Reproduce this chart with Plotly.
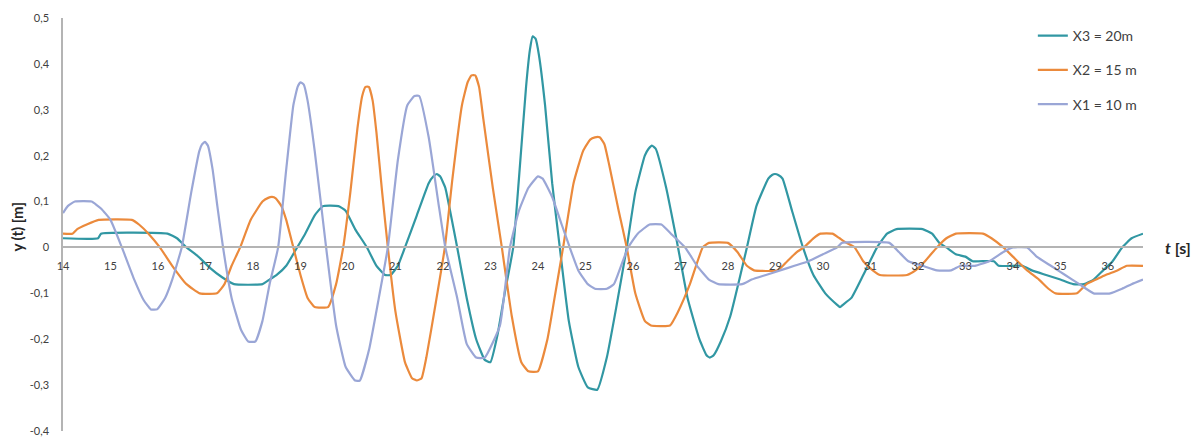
import plotly.graph_objects as go

# Recorded displacement y(t) [m] at three positions along the flume
t_x3 = [14.0, 14.74, 14.8, 16.2, 16.4, 16.6, 16.85, 17.1, 17.35, 17.6, 18.2, 18.35, 18.5, 18.7,
        18.93, 19.1, 19.3, 19.47, 19.8, 19.95, 20.15, 20.4, 20.6, 20.78, 20.9, 21.05, 21.2,
        21.45, 21.7, 21.8, 21.87, 21.94, 22.05, 22.15, 22.3, 22.5, 22.7, 22.88, 23.0, 23.15,
        23.3, 23.48, 23.6, 23.75, 23.83, 23.89, 23.95, 24.02, 24.15, 24.3, 24.46, 24.65,
        24.85, 25.05, 25.25, 25.45, 25.65, 25.87, 26.05, 26.25, 26.33, 26.4, 26.48, 26.7,
        26.95, 27.15, 27.4, 27.55, 27.62, 27.7, 27.85, 28.05, 28.4, 28.6, 28.85, 28.93,
        28.99, 29.06, 29.15, 29.35, 29.58, 29.8, 30.05, 30.3, 30.36, 30.42, 30.6, 30.85,
        31.14, 31.35, 31.55, 32.1, 32.3, 32.45, 32.6, 32.8, 33.0, 33.15, 33.6, 33.7, 34.2,
        34.4, 34.7, 35.0, 35.27, 35.5, 35.7, 35.9, 36.1, 36.3, 36.5, 36.74]
y_x3 = [0.02, 0.02, 0.03, 0.03, 0.02, 0.0, -0.02, -0.045, -0.065, -0.08, -0.08, -0.07, -0.06, -0.04,
        0.0, 0.03, 0.07, 0.09, 0.09, 0.08, 0.04, 0.0, -0.04, -0.06, -0.06, -0.04, 0.0,
        0.07, 0.14, 0.155, 0.16, 0.155, 0.13, 0.08, 0.0, -0.11, -0.2, -0.245, -0.25, -0.19,
        -0.1, 0.0, 0.15, 0.35, 0.43, 0.46, 0.455, 0.42, 0.31, 0.14, 0.0, -0.16,
        -0.26, -0.305, -0.31, -0.24, -0.13, 0.0, 0.12, 0.2, 0.215, 0.222, 0.215, 0.13,
        0.0, -0.11, -0.2, -0.235, -0.24, -0.235, -0.205, -0.15, 0.0, 0.09, 0.15, 0.158,
        0.16, 0.158, 0.15, 0.08, 0.0, -0.06, -0.1, -0.125, -0.13, -0.125, -0.11, -0.06,
        0.0, 0.03, 0.04, 0.04, 0.03, 0.01, 0.0, -0.015, -0.02, -0.03, -0.03, -0.04, -0.04,
        -0.05, -0.06, -0.07, -0.08, -0.08, -0.07, -0.05, -0.03, 0.0, 0.02, 0.03]

t_x2 = [14.0, 14.2, 14.3, 14.5, 14.75, 15.45, 15.6, 15.8, 16.04, 16.3, 16.6, 16.88, 17.24, 17.4,
        17.55, 17.73, 17.95, 18.2, 18.32, 18.4, 18.48, 18.6, 18.7, 18.85, 19.0, 19.15, 19.3,
        19.58, 19.75, 19.9, 20.05, 20.2, 20.3, 20.37, 20.44, 20.52, 20.6, 20.72, 20.84, 21.0,
        21.2, 21.35, 21.45, 21.55, 21.65, 21.85, 22.04, 22.2, 22.4, 22.52, 22.6, 22.68,
        22.76, 22.85, 23.05, 23.24, 23.45, 23.65, 23.8, 24.0, 24.2, 24.35, 24.53, 24.75,
        24.95, 25.1, 25.2, 25.3, 25.4, 25.5, 25.7, 25.87, 26.05, 26.25, 26.38, 26.78,
        26.95, 27.2, 27.47, 27.6, 28.0, 28.2, 28.4, 28.55, 29.05, 29.25, 29.45, 29.6, 29.8,
        29.95, 30.2, 30.35, 30.5, 30.67, 30.85, 31.05, 31.2, 31.77, 31.95, 32.15, 32.4,
        32.6, 32.8, 33.37, 33.55, 33.8, 34.0, 34.3, 34.55, 34.75, 34.9, 35.35, 35.55,
        35.75, 35.95, 36.2, 36.4, 36.74]
y_x2 = [0.03, 0.03, 0.04, 0.05, 0.06, 0.06, 0.05, 0.03, 0.0, -0.04, -0.08, -0.1, -0.1, -0.08,
        -0.04, 0.0, 0.06, 0.1, 0.108, 0.11, 0.107, 0.09, 0.06, 0.0, -0.06, -0.11, -0.13,
        -0.13, -0.08, 0.0, 0.12, 0.26, 0.33, 0.35, 0.35, 0.32, 0.25, 0.12, 0.0, -0.14,
        -0.25, -0.285, -0.29, -0.285, -0.24, -0.12, 0.0, 0.15, 0.31, 0.36, 0.375, 0.375,
        0.35, 0.28, 0.13, 0.0, -0.15, -0.25, -0.27, -0.27, -0.2, -0.11, 0.0, 0.14,
        0.21, 0.235, 0.24, 0.24, 0.225, 0.18, 0.08, 0.0, -0.1, -0.16, -0.17, -0.17,
        -0.14, -0.08, 0.0, 0.01, 0.01, -0.01, -0.04, -0.05, -0.05, -0.03, -0.01, 0.0, 0.02,
        0.03, 0.03, 0.02, 0.01, 0.0, -0.03, -0.05, -0.06, -0.06, -0.05, -0.03, 0.0,
        0.02, 0.03, 0.03, 0.02, 0.0, -0.02, -0.05, -0.07, -0.09, -0.1, -0.1, -0.08,
        -0.07, -0.06, -0.05, -0.04, -0.04]

t_x1 = [14.0, 14.1, 14.25, 14.6, 14.8, 15.0, 15.24, 15.5, 15.7, 15.85, 15.98, 16.15, 16.3, 16.5,
        16.7, 16.87, 16.93, 16.99, 17.05, 17.15, 17.25, 17.37, 17.55, 17.75, 17.9, 18.05,
        18.2, 18.35, 18.53, 18.7, 18.85, 18.94, 19.0, 19.07, 19.15, 19.3, 19.54, 19.75,
        19.95, 20.15, 20.25, 20.45, 20.65, 20.84, 21.05, 21.25, 21.4, 21.5, 21.7, 21.9,
        22.05, 22.3, 22.5, 22.7, 22.88, 23.2, 23.41, 23.6, 23.8, 24.0, 24.1, 24.3, 24.5,
        24.67, 24.85, 25.05, 25.2, 25.45, 25.6, 25.75, 25.9, 26.1, 26.35, 26.6, 26.8, 27.1,
        27.35, 27.6, 27.8, 28.3, 28.5, 28.8, 29.1, 29.4, 29.7, 30.0, 30.3, 30.4, 31.4, 31.6,
        31.8, 32.1, 32.4, 32.7, 32.9, 33.2, 33.5, 33.8, 34.0, 34.3, 34.5, 34.8, 35.1, 35.4,
        35.7, 36.05, 36.3, 36.5, 36.74]
y_x1 = [0.075, 0.09, 0.1, 0.1, 0.085, 0.06, 0.0, -0.07, -0.115, -0.135, -0.135, -0.11, -0.07, 0.0,
        0.12, 0.21, 0.225, 0.23, 0.222, 0.17, 0.09, 0.0, -0.11, -0.18, -0.205, -0.205,
        -0.16, -0.08, 0.0, 0.17, 0.31, 0.35, 0.36, 0.355, 0.32, 0.21, 0.0, -0.17,
        -0.26, -0.29, -0.29, -0.22, -0.11, 0.0, 0.19, 0.31, 0.33, 0.33, 0.24, 0.1,
        0.0, -0.11, -0.21, -0.24, -0.24, -0.17, 0.0, 0.08, 0.13, 0.155, 0.15, 0.11, 0.05,
        0.0, -0.05, -0.08, -0.09, -0.09, -0.08, -0.04, 0.0, 0.03, 0.05, 0.05, 0.03, 0.0,
        -0.04, -0.07, -0.08, -0.08, -0.07, -0.06, -0.05, -0.04, -0.03, -0.015, 0.0, 0.01, 0.01, -0.01,
        -0.03, -0.04, -0.05, -0.05, -0.04, -0.04, -0.03, -0.01, 0.0, 0.0, -0.02, -0.04, -0.06, -0.08,
        -0.1, -0.1, -0.09, -0.08, -0.07]

series_names = ["X3 = 20m", "X2 = 15 m", "X1 = 10 m"]
series_colors = ["#3197a3", "#eb8a3c", "#9aa6d6"]

x_ticks = list(range(14, 37))
y_ticks = [0.5, 0.4, 0.3, 0.2, 0.1, 0.0, -0.1, -0.2, -0.3, -0.4]
y_tick_text = ["0,5", "0,4", "0,3", "0,2", "0,1", "0", "-0,1", "-0,2", "-0,3", "-0,4"]

FONT = "Lato"
TXT = "#404040"
AXIS_GREY = "#b4b4b4"

fig = go.Figure()
for i, (tx, ty) in enumerate([(t_x3, y_x3), (t_x2, y_x2), (t_x1, y_x1)]):
    fig.add_trace(go.Scatter(
        x=tx, y=ty, mode="lines", name=series_names[i],
        legendgroup=f"g{i}",
        line=dict(color=series_colors[i], width=2.2, shape="spline", smoothing=0.4),
    ))

fig.update_layout(
    width=1200, height=448,
    margin=dict(l=63, r=57, t=12, b=11),
    paper_bgcolor="white", plot_bgcolor="white",
    font=dict(family=FONT, color=TXT, size=11),
    showlegend=True,
    legend=dict(
        x=0.898, y=0.995, xanchor="left", yanchor="top",
        font=dict(family=FONT, size=14, color=TXT),
        tracegroupgap=13, bgcolor="rgba(255,255,255,0)",
        itemwidth=30,
    ),
    xaxis=dict(
        range=[14, 36.74], anchor="free", position=0.4 / 0.9,
        showgrid=False, zeroline=False,
        showline=True, linecolor=AXIS_GREY, linewidth=1.5,
        tickvals=x_ticks, ticktext=[str(v) for v in x_ticks],
        ticks="", ticklabelstandoff=9,
        tickfont=dict(family=FONT, size=11, color=TXT),
    ),
    yaxis=dict(
        range=[-0.4, 0.5],
        showgrid=False, zeroline=False,
        showline=True, linecolor=AXIS_GREY, linewidth=1.5,
        tickvals=y_ticks, ticktext=y_tick_text,
        ticks="", ticklabelstandoff=10,
        tickfont=dict(family=FONT, size=11, color=TXT),
    ),
    annotations=[
        dict(text="<b>y (t) [m]</b>", xref="paper", yref="paper",
             x=(17 - 63) / 1080, y=0.495, textangle=-90, showarrow=False,
             xanchor="center", yanchor="middle",
             font=dict(family=FONT, size=15, color="#262626")),
        dict(text="<b><i>t</i> [s]</b>", xref="paper", yref="paper",
             x=(1178 - 63) / 1080, y=0.4 / 0.9, showarrow=False,
             xanchor="center", yanchor="middle",
             font=dict(family=FONT, size=16, color="#262626")),
    ],
)

fig.write_html("out.html")
